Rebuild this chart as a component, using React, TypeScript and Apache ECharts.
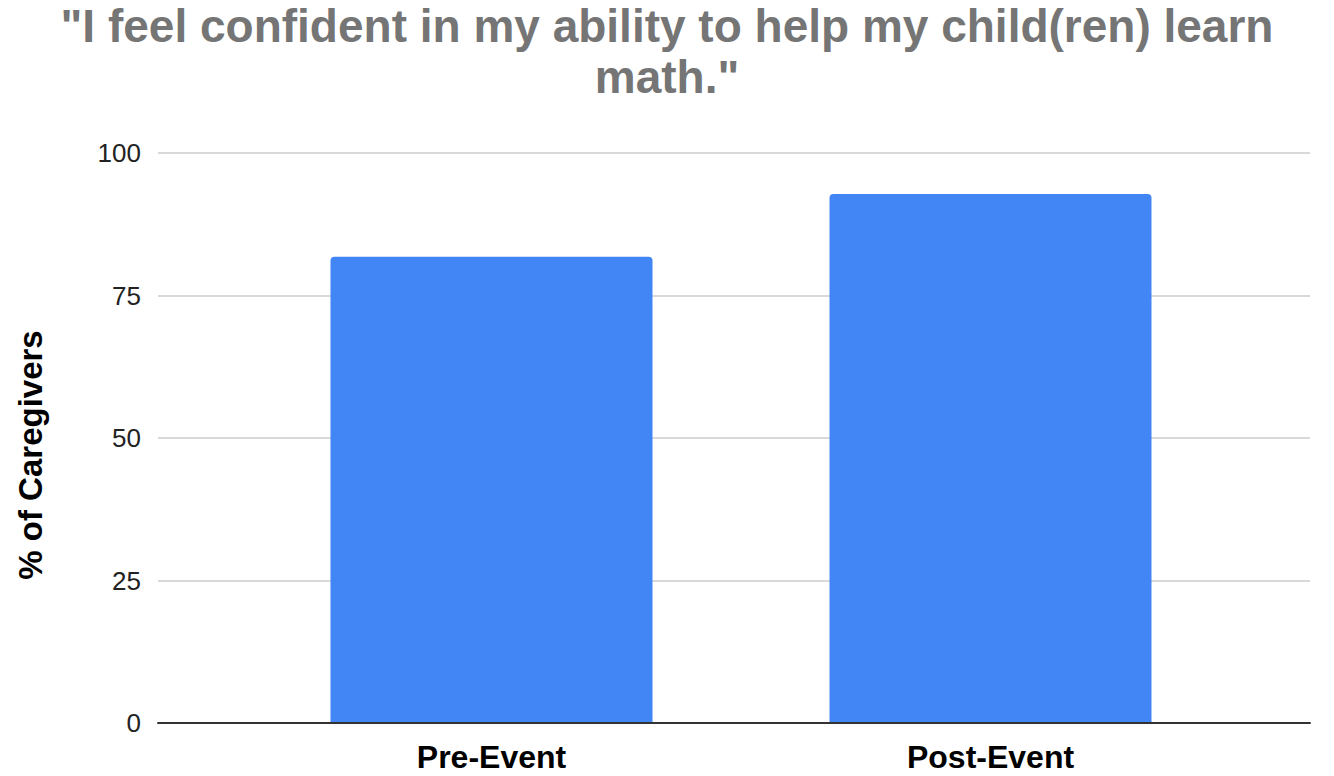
import React, { useEffect, useRef } from "react";
import * as echarts from "echarts";

const categories = ["Pre-Event", "Post-Event"];
const values = [81.8, 92.8];
const titleText = '"I feel confident in my ability to help my child(ren) learn\nmath."';
const yAxisTitle = "% of Caregivers";
const yMin = 0;
const yMax = 100;
const yStep = 25;

export default function App() {
  const ref = useRef<HTMLDivElement>(null);
  useEffect(() => {
    if (!ref.current) return;
    const chart = echarts.init(ref.current, undefined, { renderer: "svg" });
    const font = "'Liberation Sans', Arial, sans-serif";
    chart.setOption({
      animation: false,
      backgroundColor: "#ffffff",
      textStyle: { fontFamily: font },
      title: {
        text: titleText,
        left: "center",
        top: 0,
        padding: 0,
        textStyle: {
          fontFamily: font,
          fontSize: 46,
          fontWeight: "bold",
          color: "#757575",
          lineHeight: 51,
          align: "center",
        },
      },
      grid: [
        { left: 158, right: 24, top: 153, bottom: 53, containLabel: false },
        { left: 242, right: 94, top: 153, bottom: 53, containLabel: false },
      ],
      xAxis: [
        {
          type: "value",
          gridIndex: 0,
          min: 0,
          max: 1,
          z: 5,
          axisLine: { show: true, lineStyle: { color: "#333333", width: 2 } },
          axisTick: { show: false },
          axisLabel: { show: false },
          splitLine: { show: false },
        },
        {
          type: "category",
          gridIndex: 1,
          data: categories,
          axisTick: { show: false },
          axisLine: { show: false },
          axisLabel: {
            fontFamily: font,
            fontSize: 32,
            fontWeight: "bold",
            color: "#000000",
            margin: 18,
          },
        },
      ],
      yAxis: [
        {
          type: "value",
          gridIndex: 0,
          min: yMin,
          max: yMax,
          interval: yStep,
          axisLine: { show: false },
          axisTick: { show: false },
          splitLine: { lineStyle: { color: "#cccccc", width: 1.5 } },
          axisLabel: {
            fontFamily: font,
            fontSize: 26,
            color: "#222222",
            margin: 17,
          },
        },
        {
          type: "value",
          gridIndex: 1,
          min: yMin,
          max: yMax,
          interval: yStep,
          show: false,
        },
      ],
      graphic: [
        {
          type: "text",
          x: 30,
          y: 455,
          rotation: Math.PI / 2,
          style: {
            text: yAxisTitle,
            fontFamily: font,
            fontSize: 33,
            fontWeight: "bold",
            fill: "#000000",
            align: "center",
            verticalAlign: "middle",
          },
        },
      ],
      series: [
        {
          type: "bar",
          xAxisIndex: 1,
          yAxisIndex: 1,
          data: values,
          barWidth: 322,
          itemStyle: { color: "#4285F4", borderRadius: [4, 4, 0, 0] },
        },
      ],
    });
    return () => chart.dispose();
  }, []);
  return <div ref={ref} style={{ width: 1334, height: 776, margin: -8 }} />;
}
